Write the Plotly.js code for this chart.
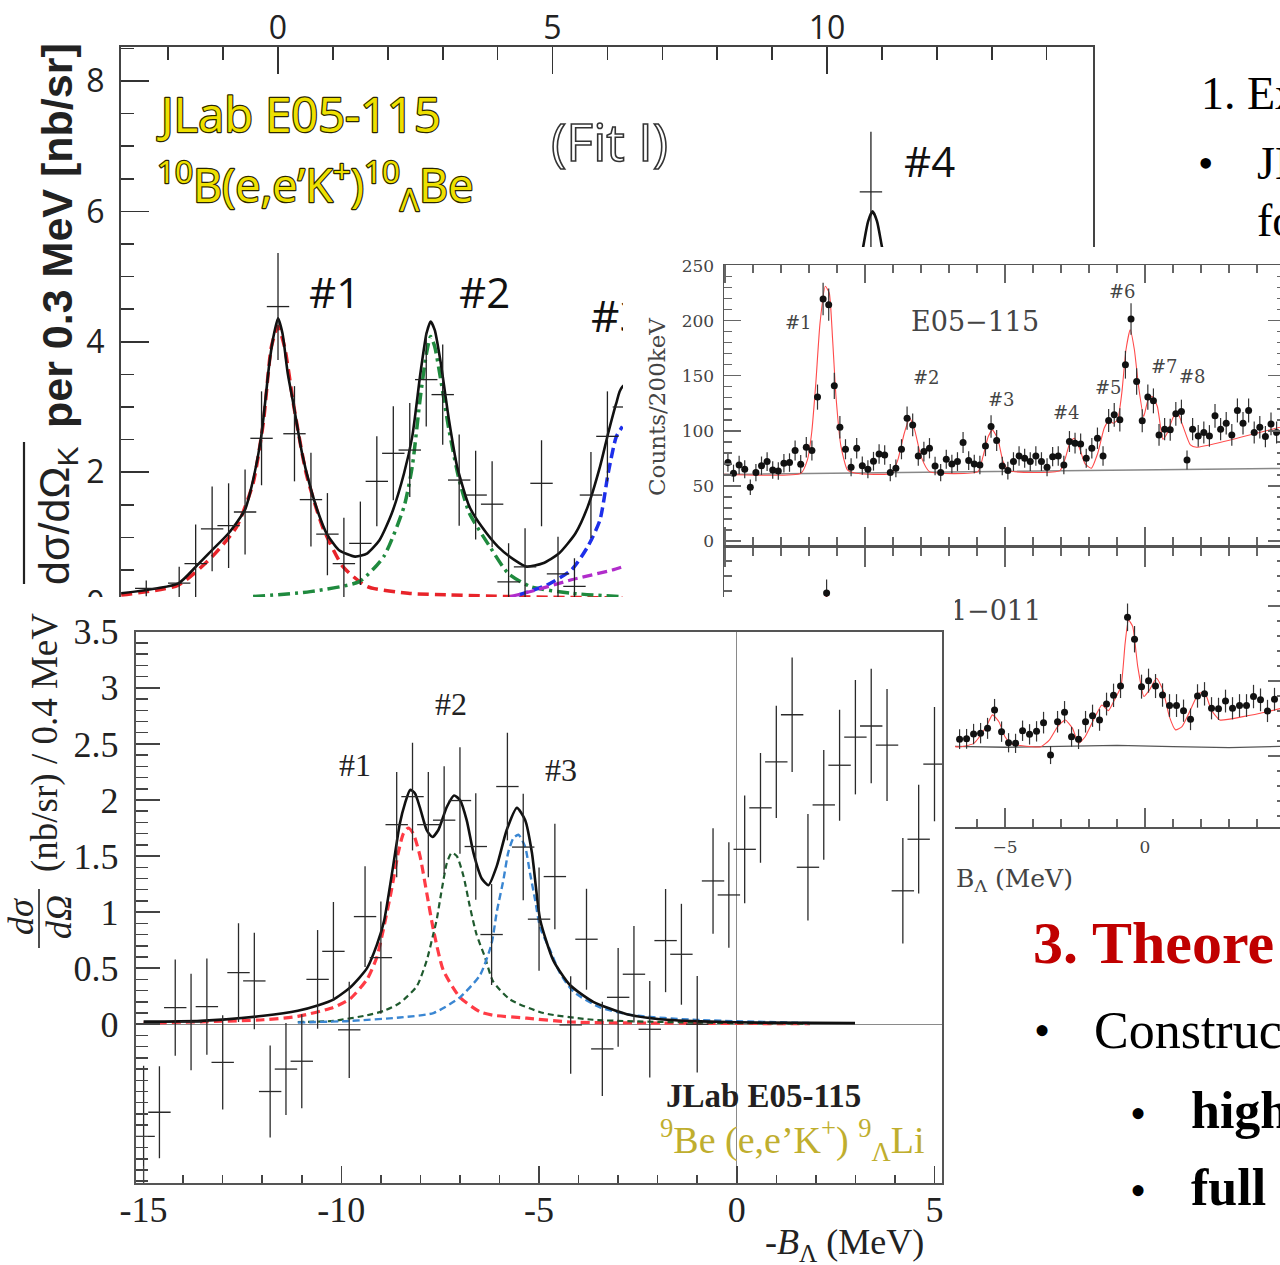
<!DOCTYPE html>
<html><head><meta charset="utf-8">
<script src="https://cdn.plot.ly/plotly-3.0.1.min.js"></script>
<style>
html,body{margin:0;padding:0;background:#fff;overflow:hidden;width:1280px;height:1265px;position:relative;}
.fig{position:absolute;}
#figA{left:0;top:0;width:1280px;height:1265px;}
#figB{left:623px;top:247px;width:680px;height:660px;}
#figC{left:0;top:597px;width:955px;height:668px;}
</style></head><body>
<div id="figA" class="fig"></div><div id="figB" class="fig"></div><div id="figC" class="fig"></div>
<script>
// ---------------- Panel A : 10B(e,e'K+)10_Lambda Be (Fit I) ----------------
const be10_x   = [-2.4,-1.8,-1.5,-1.2,-0.9,-0.6,-0.3,0.0,0.3,0.6,0.9,1.2,1.5,1.8,2.1,2.4,2.7,3.0,3.3,3.6,3.9,4.2,4.5,4.8,5.1,5.4,5.7,6.0,6.3,10.8];
const be10_y   = [0.22,0.30,0.60,1.13,1.18,1.39,2.52,4.54,2.59,1.58,1.05,0.60,0.91,1.86,2.29,2.34,3.42,3.19,1.88,1.65,1.51,0.32,0.55,1.83,0.44,0.25,1.65,2.55,3.00,6.30];
const be10_err = [0.12,0.25,0.60,0.65,0.65,0.65,0.72,0.82,0.73,0.72,0.63,0.70,0.64,0.69,0.72,0.72,0.72,0.77,0.70,0.68,0.66,0.59,0.59,0.66,0.57,0.43,0.66,0.69,0.77,0.92];
const be10_fit_x = [-2.856,-1.815,-1.495,-1.198,-0.900,-0.603,-0.454,-0.306,-0.157,-0.083,0.0,0.081,0.177,0.289,0.438,0.587,0.736,0.884,1.107,1.405,1.627,1.850,2.073,2.296,2.445,2.594,2.705,2.780,2.854,2.965,3.114,3.263,3.486,3.709,4.006,4.304,4.527,4.825,5.121,5.419,5.642,5.865,6.014,6.162,6.274,10.5,10.66,10.75,10.83,10.91,11.0,11.2];
const be10_fit_y = [0.144,0.297,0.553,0.808,1.064,1.422,1.882,2.546,3.671,4.08,4.361,4.131,3.518,3.006,2.291,1.779,1.371,1.064,0.808,0.706,0.757,0.962,1.371,1.984,2.546,3.518,4.131,4.310,4.182,3.671,2.802,2.086,1.473,1.166,0.859,0.655,0.553,0.604,0.757,1.064,1.473,2.086,2.597,3.058,3.313,4.6,5.46,5.85,6.0,5.85,5.46,4.6];
const be10_p1_x = [-2.856,-1.815,-1.198,-0.752,-0.454,-0.269,-0.120,0.0,0.118,0.289,0.513,0.810,1.182,1.627,2.371,3.114,4.229,6.274];
const be10_p1_y = [0.118,0.27,0.706,1.166,1.831,2.751,3.927,4.233,3.927,3.006,1.984,1.166,0.553,0.246,0.144,0.118,0.093,0.07];
const be10_p2_x = [-0.454,0.587,1.479,1.925,2.296,2.445,2.594,2.705,2.780,2.854,2.965,3.114,3.300,3.486,3.858,4.192,4.601,5.345,6.274];
const be10_p2_y = [0.093,0.169,0.323,0.706,1.473,2.086,3.160,3.824,4.080,3.927,3.415,2.649,1.882,1.371,0.859,0.45,0.246,0.144,0.093];
const be10_p3_x = [4.378,4.898,5.345,5.642,5.865,6.014,6.162,6.274];
const be10_p3_y = [0.118,0.27,0.502,0.859,1.269,1.984,2.546,2.70];
const be10_p4_x = [4.229,4.601,5.345,6.088,6.274];
const be10_p4_y = [0.093,0.17,0.35,0.50,0.55];
const be10_xticks = [0,5,10];
const be10_yticks = [0,2,4,6,8];

// ---------------- Panel B : E05-115 / E01-011 counts ----------------
const e05_x = [-14.9,-14.7,-14.5,-14.3,-14.1,-13.9,-13.7,-13.5,-13.3,-13.1,-12.9,-12.7,-12.5,-12.3,-12.1,-11.9,-11.7,-11.5,-11.3,-11.1,-10.9,-10.7,-10.5,-10.3,-10.1,-9.9,-9.7,-9.5,-9.3,-9.1,-8.9,-8.7,-8.5,-8.3,-8.1,-7.9,-7.7,-7.5,-7.3,-7.1,-6.9,-6.7,-6.5,-6.3,-6.1,-5.9,-5.7,-5.5,-5.3,-5.1,-4.9,-4.7,-4.5,-4.3,-4.1,-3.9,-3.7,-3.5,-3.3,-3.1,-2.9,-2.7,-2.5,-2.3,-2.1,-1.9,-1.7,-1.5,-1.3,-1.1,-0.9,-0.7,-0.5,-0.3,-0.1,0.1,0.3,0.5,0.7,0.9,1.1,1.3,1.5,1.7,1.9,2.1,2.3,2.5,2.7,2.9,3.1,3.3,3.5,3.7,3.9,4.1,4.3,4.5,4.7];
const e05_y = [71.2,61.5,69.0,65.1,48.8,62.1,68.4,72.1,64.5,63.6,70.6,71.2,82.1,69.7,85.1,82.1,130.6,219.7,214.5,140.9,103.3,83.3,66.9,84.2,68.4,65.1,72.4,79.0,78.1,62.1,66.0,83.3,111.5,105.4,77.2,81.2,84.2,68.1,62.1,74.2,70.0,72.1,89.4,73.0,70.0,69.0,86.3,103.9,91.2,68.1,63.9,72.1,77.2,75.1,72.1,77.2,72.1,66.9,76.6,77.2,69.0,90.3,88.8,88.1,75.1,84.2,93.3,77.2,109.4,114.5,110.0,160.0,201.5,144.8,109.1,130.6,127.2,96.3,101.5,100.9,115.4,117.5,73.6,101.5,95.4,98.5,95.4,113.6,101.5,106.9,96.3,118.5,106.9,118.5,98.5,103.3,94.8,106.3,98.5];
const e05_err = [8.4,7.8,8.3,8.1,7.0,7.9,8.3,8.5,8.0,8.0,8.4,8.4,9.1,8.3,9.2,9.1,11.4,14.8,14.6,11.9,10.2,9.1,8.2,9.2,8.3,8.1,8.5,8.9,8.8,7.9,8.1,9.1,10.6,10.3,8.8,9.0,9.2,8.3,7.9,8.6,8.4,8.5,9.5,8.5,8.4,8.3,9.3,10.2,9.5,8.3,8.0,8.5,8.8,8.7,8.5,8.8,8.5,8.2,8.8,8.8,8.3,9.5,9.4,9.4,8.7,9.2,9.7,8.8,10.5,10.7,10.5,12.6,14.2,12.0,10.4,11.4,11.3,9.8,10.1,10.0,10.7,10.8,8.6,10.1,9.8,9.9,9.8,10.7,10.1,10.3,9.8,10.9,10.3,10.9,9.9,10.2,9.7,10.3,9.9];
const e05_fit_x = [-15.04,-12.29,-12.06,-11.91,-11.76,-11.61,-11.42,-11.28,-11.16,-11.04,-10.86,-10.63,-10.33,-9.05,-8.83,-8.60,-8.41,-8.23,-8.00,-7.70,-5.97,-5.79,-5.60,-5.45,-5.25,-5.07,-4.85,-3.04,-2.85,-2.67,-2.52,-2.34,-2.14,-1.92,-1.69,-1.46,-1.28,-1.13,-0.98,-0.83,-0.68,-0.53,-0.38,-0.23,-0.05,0.11,0.26,0.44,0.64,0.79,1.02,1.17,1.36,1.62,1.84,5.0];
const e05_fit_y = [60.6,61.5,73.6,97.8,143.3,197.8,231.2,225.1,182.7,131.2,85.7,64.5,61.5,61.5,73.6,97.8,111.5,100.9,76.6,63.0,63.0,76.6,94.8,100.9,91.8,72.1,63.9,63.9,75.0,90.3,93.3,84.2,70.0,66.0,79.7,102.4,110.0,106.9,110.0,134.2,173.6,191.8,173.6,140.3,113.0,128.2,131.2,122.1,92.4,97.8,113.0,116.0,103.9,87.2,85.1,104.5];
const e05_bg_x = [-15.04,-13,-11,-9,-7,-5,-3,-1,1,3,5.0];
const e05_bg_y = [60.5,61.0,61.3,62.0,62.5,63.0,63.4,64.0,64.8,65.3,66.0];
const e05_labels = ['#1','#2','#3','#4','#5','#6','#7','#8'];
const e05_label_x = [-12.39,-7.82,-5.14,-2.82,-1.32,-0.82,0.71,1.68];
const e05_label_y = [198,148,128,117,139,226,158,149];

const e01_x = [-11.375,-6.625,-6.375,-6.125,-5.875,-5.625,-5.375,-5.125,-4.875,-4.625,-4.375,-4.125,-3.875,-3.625,-3.375,-3.125,-2.875,-2.625,-2.375,-2.125,-1.875,-1.625,-1.375,-1.125,-0.875,-0.625,-0.375,-0.125,0.125,0.375,0.625,0.875,1.125,1.375,1.625,1.875,2.125,2.375,2.625,2.875,3.125,3.375,3.625,3.875,4.125,4.375,4.625];
const e01_y = [79.3,30.6,30.7,32.3,32.6,34.2,40.3,33.1,29.4,29.2,33.4,32.2,33.2,36.1,25.3,36.4,39.6,31.4,30.6,36.4,38.4,37.0,42.3,45.2,48.3,71.2,63.9,48.1,50.1,48.3,45.3,41.8,41.8,40.1,37.2,45.0,45.7,40.9,40.7,43.3,40.9,41.8,41.8,44.8,43.7,40.0,43.9];
const e01_err = [4.5,3.3,3.3,3.4,3.4,3.5,3.7,3.4,3.2,3.2,3.4,3.4,3.4,3.6,3.0,3.6,3.7,3.3,3.3,3.6,3.7,3.6,3.8,3.9,4.0,4.6,4.4,4.0,4.0,4.0,3.9,3.8,3.8,3.7,3.6,3.9,3.9,3.7,3.7,3.8,3.7,3.8,3.8,3.9,3.8,3.7,3.8];
const e01_fit_x = [-11.6,-11.375,-11.15,-6.77,-6.12,-5.67,-5.45,-5.22,-5.0,-4.77,-3.72,-3.42,-3.12,-2.85,-2.59,-2.37,-2.14,-1.84,-1.54,-1.31,-1.09,-0.86,-0.71,-0.59,-0.44,-0.26,-0.04,0.16,0.41,0.64,0.87,1.09,1.32,1.62,1.92,2.14,2.37,2.67,3.50,4.40,5.0];
const e01_fit_y = [60,80.5,60,28.1,29.2,34.8,38.7,36.4,31.4,29.0,28.1,30.3,34.8,37.0,34.2,29.2,31.4,37.0,42.0,40.1,43.7,48.1,62.6,70.3,68.1,54.8,44.8,47.0,50.9,47.0,38.1,33.7,34.8,40.3,45.9,45.9,40.3,37.0,38.1,39.8,41.2];
const e01_bg_x = [-15.04,-6.8,-5,-3,-1,1,3,5.0];
const e01_bg_y = [28.0,28.2,27.9,28.2,28.5,28.1,27.8,28.2];

// ---------------- Panel C : 9Be(e,e'K+)9_Lambda Li ----------------
const be9_x = [-15.0,-14.6,-14.2,-13.8,-13.4,-13.0,-12.6,-12.2,-11.8,-11.4,-11.0,-10.6,-10.2,-9.8,-9.4,-9.0,-8.6,-8.2,-7.8,-7.4,-7.0,-6.6,-6.2,-5.8,-5.4,-5.0,-4.6,-4.2,-3.8,-3.4,-3.0,-2.6,-2.2,-1.8,-1.4,-1.0,-0.6,-0.2,0.2,0.6,1.0,1.4,1.8,2.2,2.6,3.0,3.4,3.8,4.2,4.6,5.0];
const be9_y = [-1.0,-0.785,0.148,0.02,0.157,-0.34,0.46,0.386,-0.60,-0.40,-0.33,0.40,0.65,-0.05,0.96,0.594,1.78,2.03,1.78,1.82,1.995,1.585,0.80,2.12,1.58,0.937,1.317,-0.006,0.758,-0.22,0.24,0.446,-0.045,0.746,0.624,0.0,1.278,1.153,1.56,1.93,2.34,2.76,1.40,1.956,2.31,2.56,2.66,2.49,1.19,1.65,2.32];
const be9_err = [0.63,0.41,0.43,0.43,0.43,0.42,0.44,0.43,0.41,0.41,0.42,0.44,0.44,0.43,0.45,0.5,0.47,0.48,0.47,0.48,0.475,0.475,0.45,0.48,0.475,0.46,0.47,0.435,0.45,0.42,0.44,0.43,0.43,0.46,0.45,0.43,0.47,0.47,0.48,0.49,0.50,0.51,0.475,0.49,0.495,0.51,0.51,0.50,0.47,0.485,0.51];
const be9_fit_x = [-15.0,-13.56,-11.97,-11.1,-10.58,-10.2,-9.77,-9.35,-9.1,-8.92,-8.69,-8.52,-8.39,-8.26,-8.14,-8.01,-7.84,-7.70,-7.55,-7.33,-7.15,-7.0,-6.83,-6.66,-6.45,-6.28,-6.07,-5.82,-5.56,-5.35,-5.18,-4.97,-4.64,-4.22,-3.63,-2.78,-1.94,-0.68,0.59,2.99];
const be9_fit_y = [0.023,0.03,0.075,0.12,0.17,0.22,0.33,0.5,0.71,0.92,1.41,1.79,1.97,2.09,2.06,1.93,1.73,1.67,1.73,1.94,2.04,2.0,1.82,1.53,1.30,1.24,1.41,1.73,1.93,1.82,1.53,0.93,0.57,0.35,0.20,0.09,0.045,0.023,0.014,0.01];
const be9_p1_x = [-15.0,-11.97,-11.1,-10.2,-9.77,-9.35,-9.1,-8.94,-8.73,-8.56,-8.43,-8.31,-8.18,-8.01,-7.84,-7.67,-7.42,-7.0,-6.49,-6.16,-5.31,-4.22,-1.94,1.85];
const be9_p1_y = [0.01,0.04,0.07,0.15,0.23,0.40,0.6,0.84,1.20,1.53,1.70,1.75,1.70,1.50,1.17,0.84,0.48,0.24,0.11,0.08,0.054,0.02,0.01,0.005];
const be9_p2_x = [-11.1,-10.2,-9.35,-8.92,-8.52,-8.09,-7.84,-7.67,-7.59,-7.46,-7.33,-7.21,-7.08,-6.91,-6.75,-6.58,-6.37,-6.16,-5.73,-4.89,-3.63,-1.1,1.85];
const be9_p2_y = [0.02,0.03,0.08,0.12,0.19,0.34,0.57,0.81,0.93,1.20,1.44,1.53,1.50,1.32,1.05,0.80,0.60,0.38,0.22,0.10,0.04,0.015,0.005];
const be9_p3_x = [-11.1,-9.77,-8.52,-7.67,-7.0,-6.49,-6.2,-6.07,-5.9,-5.78,-5.65,-5.52,-5.35,-5.23,-5.10,-4.97,-4.72,-4.47,-4.13,-3.46,-2.61,-1.10,1.94];
const be9_p3_y = [0.015,0.03,0.06,0.10,0.24,0.44,0.72,1.0,1.29,1.53,1.66,1.69,1.58,1.35,1.11,0.86,0.66,0.455,0.29,0.15,0.08,0.04,0.01];
const be9_xticks = [-15,-10,-5,0,5];
const be9_xticktext = ['-15','-10','-5','0','5'];
const be9_yticks = [0,0.5,1,1.5,2,2.5,3,3.5];
const be9_yticktext = ['0','0.5','1','1.5','2','2.5','3','3.5'];
const be9_labels = ['#1','#2','#3'];
const be9_label_x = [-9.65,-7.22,-4.44];
const be9_label_y = [2.31,2.86,2.27];

// ---------------- helpers (page pixel -> paper fraction) ----------------
function PX(x,w){return x/w;} function PY(y,h){return 1-y/h;}
const cfg = {staticPlot:true, displayModeBar:false};
const crossStyle = (c)=>({symbol:'line-ew', size:16, color:c, line:{color:c, width:1.3}});

// ================= Figure A =================
(function(){
  const W=1280,H=1265;
  const ax = (x)=>PX(x,W), ay=(y)=>PY(y,H);
  const traces = [
    {x:be10_p1_x,y:be10_p1_y,mode:'lines',line:{color:'#e8242a',width:3.5,dash:'11px,6px',shape:'spline',smoothing:0.6},hoverinfo:'skip'},
    {x:be10_p2_x,y:be10_p2_y,mode:'lines',line:{color:'#1f8a3e',width:3.5,dash:'12px,5px,3px,5px',shape:'spline',smoothing:0.6},hoverinfo:'skip'},
    {x:be10_p3_x,y:be10_p3_y,mode:'lines',line:{color:'#1d2fea',width:3.5,dash:'10px,5px',shape:'spline',smoothing:0.6},hoverinfo:'skip'},
    {x:be10_p4_x,y:be10_p4_y,mode:'lines',line:{color:'#b12ccb',width:3.2,dash:'10px,5px',shape:'spline',smoothing:0.6},hoverinfo:'skip'},
    {x:be10_fit_x,y:be10_fit_y,mode:'lines',line:{color:'#111',width:2.6,shape:'spline',smoothing:0.6},hoverinfo:'skip'},
    {x:be10_x,y:be10_y,mode:'markers',marker:crossStyle('#222'),
     error_y:{type:'data',array:be10_err,visible:true,color:'#222',thickness:1.3,width:0}}
  ];
  const tf = {family:'Open Sans, Liberation Sans, sans-serif', size:32, color:'#222'};
  const serif = 'Liberation Serif, Times New Roman, serif';
  const ann = [
    {text:'JLab E05-115', x:ax(155), y:ay(114), xanchor:'left', yanchor:'middle', font:{family:'Open Sans, sans-serif',size:47,color:'#eee000'}},
    {text:'<sup>10</sup>B(e,e’K<sup>+</sup>)<sup>10</sup><sub>Λ</sub>Be', x:ax(155), y:ay(184), xanchor:'left', yanchor:'middle', font:{family:'Open Sans, sans-serif',size:45,color:'#eee000'}},
    {text:'(Fit I)', x:ax(609), y:ay(140), xanchor:'center', yanchor:'middle', font:{family:'Open Sans, sans-serif',size:52,color:'#ffffff'}},
    {text:'#1', x:ax(334), y:ay(291), xanchor:'center', yanchor:'middle', font:{family:'Open Sans, sans-serif',size:42,color:'#111'}},
    {text:'#2', x:ax(484), y:ay(291), xanchor:'center', yanchor:'middle', font:{family:'Open Sans, sans-serif',size:42,color:'#111'}},
    {text:'#3', x:ax(589), y:ay(315), xanchor:'left', yanchor:'middle', font:{family:'Liberation Sans Narrow, Open Sans, sans-serif',size:44,color:'#111'}},
    {text:'#4', x:ax(929), y:ay(161), xanchor:'center', yanchor:'middle', font:{family:'Open Sans, sans-serif',size:42,color:'#111'}},
    {text:'dσ/dΩ<sub>K</sub>', x:ax(57), y:ay(516), textangle:-90, xanchor:'center', yanchor:'middle', font:{family:'Liberation Sans Narrow, Liberation Sans, sans-serif',size:43,color:'#222'}},
    {text:'<b>per 0.3 MeV [nb/sr]</b>', x:ax(57), y:ay(236), textangle:-90, xanchor:'center', yanchor:'middle', font:{family:'Liberation Sans Narrow, Liberation Sans, sans-serif',size:43,color:'#222'}},
    // slide text
    {text:'1. Ex', x:ax(1199), y:ay(93), xanchor:'left', yanchor:'middle', font:{family:serif,size:46,color:'#000'}},
    {text:'•', x:ax(1205), y:ay(163), xanchor:'center', yanchor:'middle', font:{family:serif,size:44,color:'#000'}},
    {text:'JL', x:ax(1255), y:ay(163), xanchor:'left', yanchor:'middle', font:{family:serif,size:46,color:'#000'}},
    {text:'fo', x:ax(1255), y:ay(220), xanchor:'left', yanchor:'middle', font:{family:serif,size:46,color:'#000'}},
    {text:'<b>3. Theore</b>', x:ax(1031), y:ay(943), xanchor:'left', yanchor:'middle', font:{family:serif,size:60,color:'#c00000'}},
    {text:'•', x:ax(1042), y:ay(1030), xanchor:'center', yanchor:'middle', font:{family:serif,size:46,color:'#000'}},
    {text:'Construc', x:ax(1092), y:ay(1030), xanchor:'left', yanchor:'middle', font:{family:serif,size:52,color:'#000'}},
    {text:'•', x:ax(1138), y:ay(1113), xanchor:'center', yanchor:'middle', font:{family:serif,size:46,color:'#000'}},
    {text:'<b>high</b>', x:ax(1189), y:ay(1110), xanchor:'left', yanchor:'middle', font:{family:serif,size:52,color:'#000'}},
    {text:'•', x:ax(1138), y:ay(1190), xanchor:'center', yanchor:'middle', font:{family:serif,size:46,color:'#000'}},
    {text:'<b>full</b>', x:ax(1189), y:ay(1187), xanchor:'left', yanchor:'middle', font:{family:serif,size:52,color:'#000'}}
  ].map(a=>Object.assign({xref:'paper',yref:'paper',showarrow:false},a));
  const layout = {
    width:W,height:H,margin:{l:0,r:0,t:0,b:0},paper_bgcolor:'#fff',plot_bgcolor:'rgba(0,0,0,0)',showlegend:false,
    xaxis:{domain:[ax(121),ax(1093)],range:[-2.86,14.845],side:'top',tickmode:'array',tickvals:be10_xticks,ticks:'inside',ticklen:27,tickwidth:1.6,tickcolor:'#333',
      minor:{tickmode:'linear',tick0:0,dtick:1,ticks:'inside',ticklen:13,tickwidth:1.6,tickcolor:'#333'},
      showline:true,linecolor:'#444',linewidth:2,mirror:true,showgrid:false,zeroline:false,tickfont:tf,ticklabelstandoff:-7},
    yaxis:{domain:[ay(615.7),ay(47)],range:[-0.2,8.52],tickmode:'array',tickvals:be10_yticks,ticks:'inside',ticklen:28,tickwidth:1.6,tickcolor:'#333',
      minor:{tickmode:'linear',tick0:0,dtick:0.5,ticks:'inside',ticklen:13,tickwidth:1.6,tickcolor:'#333'},
      showline:true,linecolor:'#444',linewidth:2,mirror:true,showgrid:false,zeroline:false,tickfont:tf,ticklabelstandoff:8},
    annotations:ann,
    shapes:[{type:'line',xref:'paper',yref:'paper',x0:ax(24),x1:ax(24),y0:ay(442),y1:ay(584),line:{color:'#222',width:2.2}}]
  };
  Plotly.newPlot('figA',traces,layout,cfg).then(()=>{
    document.querySelectorAll('#figA text.annotation-text').forEach(t=>{
      const s=t.textContent;
      if(s.indexOf('JLab')>=0 || s.indexOf('B(e,e')>=0){t.style.stroke='#2a2600';t.style.strokeWidth='2.4px';t.style.paintOrder='stroke';t.style.strokeLinejoin='round';}
      if(s.indexOf('Fit')>=0){t.style.stroke='#333';t.style.strokeWidth='1.6px';}
    });
  });
})();

// ================= Figure B =================
(function(){
  const W=680,H=660, ox=623, oy=247;
  const bx=(x)=>PX(x-ox,W), by=(y)=>PY(y-oy,H);
  const hs='DejaVu Serif, Liberation Serif, serif';
  const tf={family:hs,size:17,color:'#444'};
  const dot={symbol:'circle',size:7,color:'#111'};
  const traces=[
    {x:e05_bg_x,y:e05_bg_y,xaxis:'x',yaxis:'y',mode:'lines',line:{color:'#888',width:1.5},hoverinfo:'skip'},
    {x:e05_fit_x,y:e05_fit_y,xaxis:'x',yaxis:'y',mode:'lines',line:{color:'#ff4a4a',width:1.1,shape:'spline',smoothing:0.5},hoverinfo:'skip'},
    {x:e05_x,y:e05_y,xaxis:'x',yaxis:'y',mode:'markers',marker:dot,error_y:{type:'data',array:e05_err,visible:true,color:'#333',thickness:1.2,width:0}},
    {x:e01_bg_x,y:e01_bg_y,xaxis:'x2',yaxis:'y2',mode:'lines',line:{color:'#555',width:1.3},hoverinfo:'skip'},
    {x:e01_fit_x,y:e01_fit_y,xaxis:'x2',yaxis:'y2',mode:'lines',line:{color:'#ff4a4a',width:1.1,shape:'spline',smoothing:0.5},hoverinfo:'skip'},
    {x:e01_x,y:e01_y,xaxis:'x2',yaxis:'y2',mode:'markers',marker:dot,error_y:{type:'data',array:e01_err,visible:true,color:'#333',thickness:1.2,width:0}}
  ];
  const common={ticks:'inside',mirror:'allticks',showline:true,linecolor:'#555',linewidth:1.5,tickcolor:'#666',tickwidth:1.4,showgrid:false,zeroline:false,tickfont:tf};
  const xdom=[bx(724),bx(1285)];
  const layout={
    width:W,height:H,margin:{l:0,r:0,t:0,b:0},paper_bgcolor:'#fff',plot_bgcolor:'#fff',showlegend:false,
    xaxis:Object.assign({},common,{domain:xdom,range:[-15.04,5.0],anchor:'y',tick0:0,dtick:5,ticklen:18,showticklabels:false,
      minor:{tick0:0,dtick:1,ticks:'inside',ticklen:8,tickwidth:1.4,tickcolor:'#666'}}),
    yaxis:Object.assign({},common,{domain:[by(545),by(265)],range:[-3.6,250.5],anchor:'x',tick0:0,dtick:50,ticklen:17,ticklabelstandoff:5,
      minor:{tick0:0,dtick:10,ticks:'inside',ticklen:8,tickwidth:1.4,tickcolor:'#666'}}),
    xaxis2:Object.assign({},common,{domain:xdom,range:[-15.04,5.0],anchor:'y2',tick0:0,dtick:5,ticklen:19,ticklabelstandoff:4,
      minor:{tick0:0,dtick:1,ticks:'inside',ticklen:8,tickwidth:1.4,tickcolor:'#666'}}),
    yaxis2:Object.assign({},common,{domain:[by(827),by(548)],range:[1.33,94.3],anchor:'x2',tick0:0,dtick:25,ticklen:17,showticklabels:false,
      minor:{tick0:0,dtick:5,ticks:'inside',ticklen:8,tickwidth:1.4,tickcolor:'#666'}}),
    annotations:[
      {text:'E05−115',x:-6.07,y:199,xref:'x',yref:'y',xanchor:'center',yanchor:'middle',font:{family:hs,size:27,color:'#444'}},
      ...e05_labels.map((t,i)=>({text:t,x:e05_label_x[i],y:e05_label_y[i],xref:'x',yref:'y',xanchor:'center',yanchor:'middle',font:{family:hs,size:18,color:'#444'}})),
      {text:'E01−011',x:(1043-1145)/28,y:73.6,xref:'x2',yref:'y2',xanchor:'right',yanchor:'middle',font:{family:hs,size:27,color:'#444'}},
      {text:'Counts/200keV',x:bx(657),y:by(407),xref:'paper',yref:'paper',textangle:-90,xanchor:'center',yanchor:'middle',font:{family:hs,size:23,color:'#444'}},
      {text:'B<sub>Λ</sub> (MeV)',x:bx(954),y:by(880),xref:'paper',yref:'paper',xanchor:'left',yanchor:'middle',font:{family:hs,size:25,color:'#444'}}
    ].map(a=>Object.assign({showarrow:false},a))
  };
  Plotly.newPlot('figB',traces,layout,cfg);
})();

// ================= Figure C =================
(function(){
  const W=955,H=668, oy=597;
  const cx=(x)=>PX(x,W), cy=(y)=>PY(y-oy,H);
  const serif='Liberation Serif, Times New Roman, serif';
  const tf={family:serif,size:36,color:'#222'};
  const traces=[
    {x:be9_p1_x,y:be9_p1_y,mode:'lines',line:{color:'#ff3b45',width:3.2,dash:'9px,5px',shape:'spline',smoothing:0.6},hoverinfo:'skip'},
    {x:be9_p2_x,y:be9_p2_y,mode:'lines',line:{color:'#1f5a2e',width:2.2,dash:'6px,4px',shape:'spline',smoothing:0.6},hoverinfo:'skip'},
    {x:be9_p3_x,y:be9_p3_y,mode:'lines',line:{color:'#3a86d2',width:2.4,dash:'7px,4px',shape:'spline',smoothing:0.6},hoverinfo:'skip'},
    {x:be9_fit_x,y:be9_fit_y,mode:'lines',line:{color:'#111',width:2.6,shape:'spline',smoothing:0.6},hoverinfo:'skip'},
    {x:be9_x,y:be9_y,mode:'markers',marker:crossStyle('#2a2a2a'),error_y:{type:'data',array:be9_err,visible:true,color:'#2a2a2a',thickness:1.3,width:0}}
  ];
  const layout={
    width:W,height:H,margin:{l:0,r:0,t:0,b:0},paper_bgcolor:'#fff',plot_bgcolor:'#fff',showlegend:false,
    xaxis:{domain:[cx(135.7),cx(942)],range:[-15.2,5.19],tickmode:'array',tickvals:be9_xticks,ticktext:be9_xticktext,ticks:'inside',ticklen:17,tickwidth:1.5,tickcolor:'#444',
      minor:{tickmode:'linear',tick0:0,dtick:1,ticks:'inside',ticklen:8,tickwidth:1.5,tickcolor:'#444'},
      showline:true,linecolor:'#555',linewidth:2,mirror:true,showgrid:false,zeroline:true,zerolinecolor:'#8a8a8a',zerolinewidth:1,tickfont:tf,ticklabelstandoff:-6},
    yaxis:{domain:[cy(1183),cy(631.8)],range:[-1.416,3.5],tickmode:'array',tickvals:be9_yticks,ticktext:be9_yticktext,ticks:'inside',ticklen:24,tickwidth:1.5,tickcolor:'#444',
      minor:{tickmode:'linear',tick0:0,dtick:0.1,ticks:'inside',ticklen:12,tickwidth:1.5,tickcolor:'#444'},
      showline:true,linecolor:'#555',linewidth:2,mirror:true,showgrid:false,zeroline:true,zerolinecolor:'#8a8a8a',zerolinewidth:1,tickfont:tf,ticklabelstandoff:8},
    annotations:[
      ...be9_labels.map((t,i)=>({text:t,x:be9_label_x[i],y:be9_label_y[i],xref:'x',yref:'y',xanchor:'center',yanchor:'middle',font:{family:serif,size:32,color:'#222'}})),
      {text:'<b>JLab E05-115</b>',x:-1.83,y:-0.64,xref:'x',yref:'y',xanchor:'left',yanchor:'middle',font:{family:serif,size:33,color:'#231f20'}},
      {text:'<sup>9</sup>Be (e,e’K<sup>+</sup>) <sup>9</sup><sub>Λ</sub>Li',x:-2.0,y:-1.03,xref:'x',yref:'y',xanchor:'left',yanchor:'middle',font:{family:serif,size:38,color:'#bfae2e'}},
      {text:'-<i>B</i><sub>Λ</sub> (MeV)',x:cx(763),y:cy(1244),xref:'paper',yref:'paper',xanchor:'left',yanchor:'middle',font:{family:serif,size:36,color:'#222'}},
      {text:'(nb/sr) / 0.4 MeV',x:cx(45),y:cy(743),xref:'paper',yref:'paper',textangle:-90,xanchor:'center',yanchor:'middle',font:{family:serif,size:37,color:'#222'}},
      {text:'<i>dσ</i>',x:cx(21),y:cy(917),xref:'paper',yref:'paper',textangle:-90,xanchor:'center',yanchor:'middle',font:{family:serif,size:36,color:'#222'}},
      {text:'<i>dΩ</i>',x:cx(59),y:cy(917),xref:'paper',yref:'paper',textangle:-90,xanchor:'center',yanchor:'middle',font:{family:serif,size:36,color:'#222'}}
    ].map(a=>Object.assign({showarrow:false},a)),
    shapes:[{type:'line',xref:'paper',yref:'paper',x0:cx(39),x1:cx(39),y0:cy(889),y1:cy(948),line:{color:'#222',width:1.6}}]
  };
  Plotly.newPlot('figC',traces,layout,cfg);
})();
</script></body></html>
